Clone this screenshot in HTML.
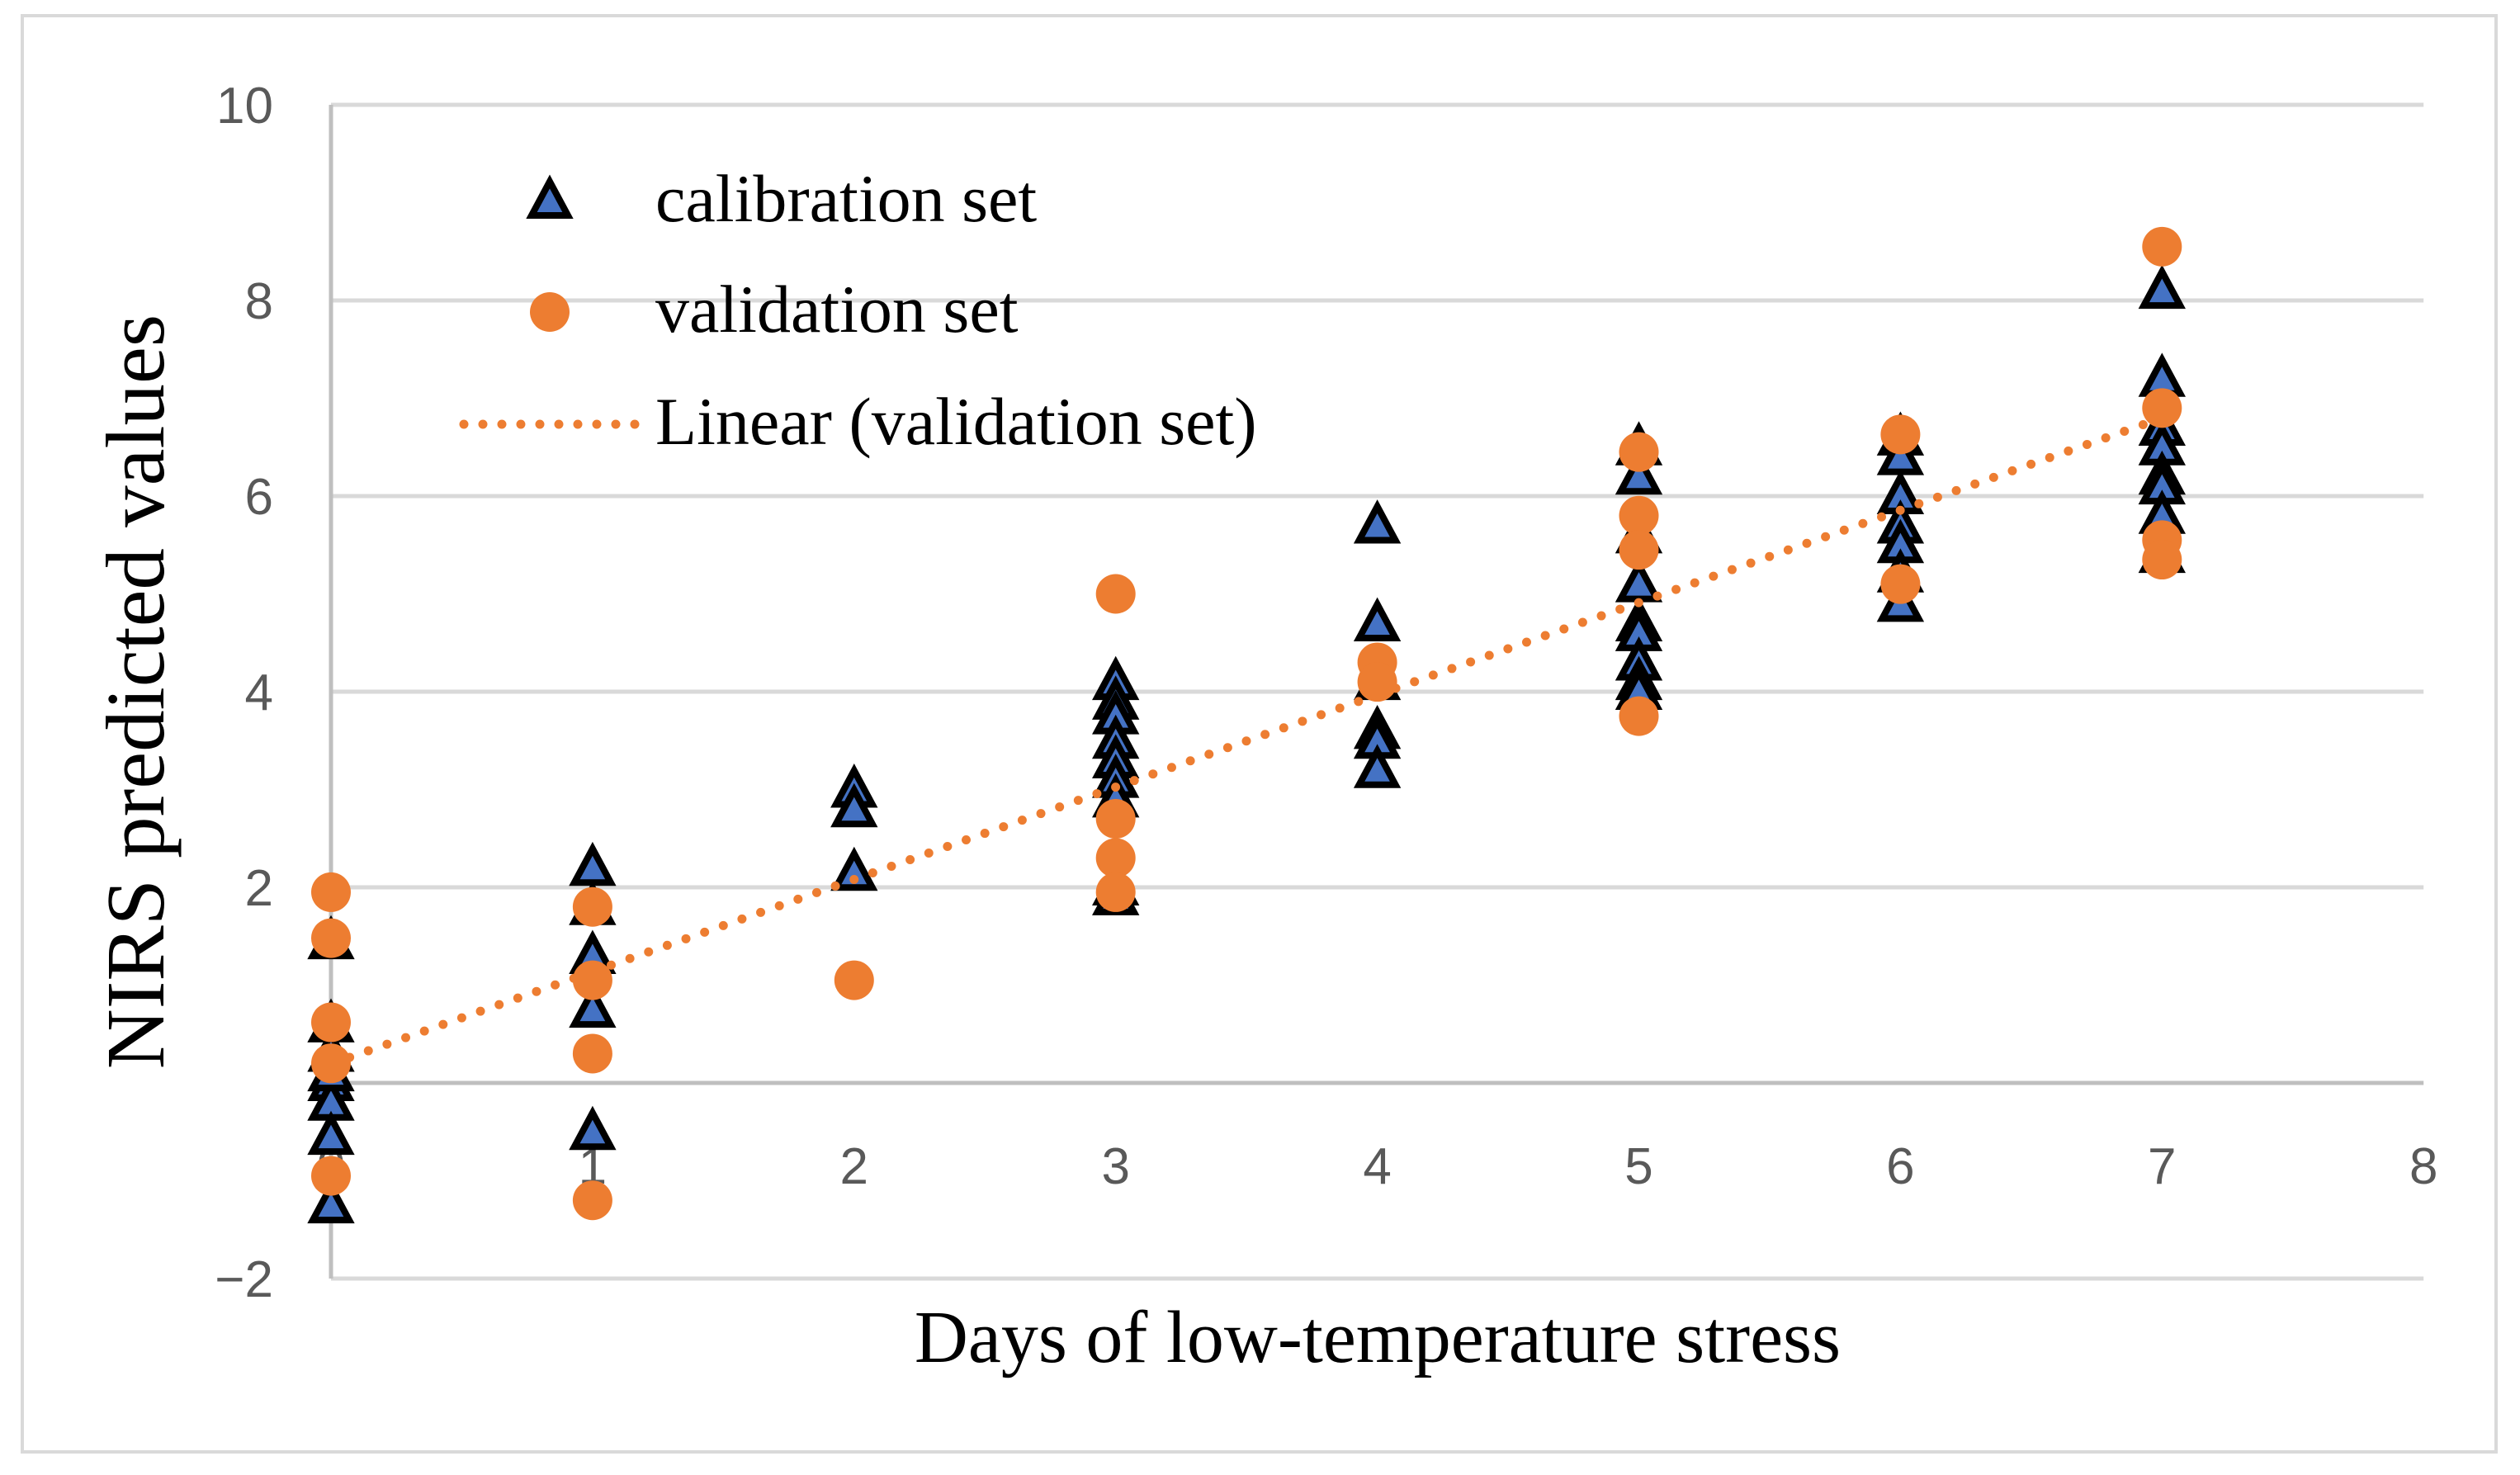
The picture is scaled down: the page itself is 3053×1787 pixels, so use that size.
<!DOCTYPE html>
<html><head><meta charset="utf-8"><style>
html,body{margin:0;padding:0;background:#fff;}
svg{display:block;}
</style></head><body>
<svg id="chart" width="3053" height="1787" viewBox="0 0 3053 1787" xmlns="http://www.w3.org/2000/svg">
<rect x="27" y="19" width="2997" height="1740" fill="#fff" stroke="#d9d9d9" stroke-width="4"/>
<g id="grid"></g>
<g id="axes"></g>
<g id="ylabels" font-family="'Liberation Sans', sans-serif" font-size="62" fill="#595959" text-anchor="end"></g>
<g id="xlabels" font-family="'Liberation Sans', sans-serif" font-size="62" fill="#595959" text-anchor="middle"></g>
<g id="cal"></g>
<g id="trend"></g>
<g id="val"></g>
<text x="175" y="838" transform="rotate(-90 175 838)" text-anchor="middle" dominant-baseline="middle" font-family="'Liberation Serif', serif" font-size="101" fill="#000">NIRS predicted values</text>
<text x="1669" y="1650" text-anchor="middle" font-family="'Liberation Serif', serif" font-size="90" fill="#000">Days of low-temperature stress</text>
<g font-family="'Liberation Serif', serif" font-size="82" fill="#000">
  <g>
    <polygon points="666,220 688,261 644,261" fill="#4472C4" stroke="#000" stroke-width="8" stroke-linejoin="miter"/>
    <text x="794" y="268">calibration set</text>
  </g>
  <g>
    <circle cx="666" cy="378" r="24" fill="#ED7D31"/>
    <text x="794" y="402">validation set</text>
  </g>
  <g>
    <line x1="562" y1="514" x2="772" y2="514" stroke="#ED7D31" stroke-width="11" stroke-linecap="round" stroke-dasharray="0 23"/>
    <text x="794" y="538">Linear (validation set)</text>
  </g>
</g>
</svg>
<script>
const yTicks = [-2, 0, 2, 4, 6, 8, 10];
const yTickLabels = ['\u22122', '', '2', '4', '6', '8', '10'];
const xTicks = [0, 1, 2, 3, 4, 5, 6, 7, 8];
const xTickLabels = ['0', '1', '2', '3', '4', '5', '6', '7', '8'];
const calDays = [0,0,0,0,0,0,0,0, 1,1,1,1,1, 2,2,2, 3,3,3,3,3,3,3,3,3, 4,4,4,4,4,4, 5,5,5,5,5,5,5,5,5, 6,6,6,6,6,6,6, 7,7,7,7,7,7,7,7];
const calValues = [1.45,0.6,0.3,0.0,-0.2,-0.55,-1.25,0.1, 2.2,1.8,1.3,0.75,-0.5, 3.0,2.8,2.15, 4.1,3.9,3.75,3.5,3.3,3.1,2.9,2.0,1.9, 5.7,4.7,4.1,3.6,3.5,3.2, 6.5,6.2,5.6,5.1,4.7,4.6,4.3,4.1,4.0, 6.6,6.4,6.0,5.7,5.5,5.2,4.9, 8.1,7.2,6.7,6.5,6.2,6.1,5.8,5.4];
const valDays = [0,0,0,0,0, 1,1,1,1, 2, 3,3,3,3, 4,4, 5,5,5,5, 6,6, 7,7,7,7];
const valValues = [1.95,1.48,0.62,0.2,-0.95, 1.8,1.05,0.3,-1.2, 1.05, 5.0,2.7,2.3,1.95, 4.3,4.1, 6.45,5.8,5.45,3.75, 6.63,5.1, 8.55,6.9,5.55,5.35];

const NS = 'http://www.w3.org/2000/svg';
const X0 = 401, XU = 316.9, Y0 = 1312, YU = 118.5;
function xs(v){ return X0 + v * XU; }
function ys(v){ return Y0 - v * YU; }
function mk(tag, attrs, parent){
  const e = document.createElementNS(NS, tag);
  for (const k in attrs) e.setAttribute(k, attrs[k]);
  parent.appendChild(e);
  return e;
}
const grid = document.getElementById('grid');
yTicks.forEach(function(t){
  if (t === 0 || t === -2) return;
  const l = mk('line', {x1: xs(0), x2: xs(8), y1: ys(t), y2: ys(t), stroke: '#d9d9d9', 'stroke-width': 5}, grid);
  
  
});
const axes = document.getElementById('axes');
const gb = mk('line', {x1: xs(0), x2: xs(8), y1: ys(-2), y2: ys(-2), stroke: '#d9d9d9', 'stroke-width': 5}, axes);


const xa = mk('line', {x1: xs(0), x2: xs(8), y1: ys(0), y2: ys(0), stroke: '#bfbfbf', 'stroke-width': 5}, axes);


const ya = mk('line', {x1: xs(0), x2: xs(0), y1: ys(10), y2: ys(-2), stroke: '#bfbfbf', 'stroke-width': 5}, axes);



const yl = document.getElementById('ylabels');
yTicks.forEach(function(t, i){
  const tx = mk('text', {x: 331, y: ys(t) + 22}, yl);
  tx.textContent = yTickLabels[i];
  
  
});
const xl = document.getElementById('xlabels');
xTicks.forEach(function(t, i){
  const tx = mk('text', {x: xs(t), y: 1434}, xl);
  tx.textContent = xTickLabels[i];
  
  
});

const cal = document.getElementById('cal');
calDays.forEach(function(d, i){
  const cx = xs(d), cy = ys(calValues[i]);
  const p = mk('polygon', {points: (cx)+','+(cy-23)+' '+(cx+22)+','+(cy+18)+' '+(cx-22)+','+(cy+18), fill: '#4472C4', stroke: '#000', 'stroke-width': 8}, cal);
  
  
});

let n = valDays.length, sx = 0, sy = 0, sxx = 0, sxy = 0;
for (let i = 0; i < n; i++){ sx += valDays[i]; sy += valValues[i]; sxx += valDays[i]*valDays[i]; sxy += valDays[i]*valValues[i]; }
const slope = (n*sxy - sx*sy) / (n*sxx - sx*sx);
const icpt = (sy - slope*sx) / n;
const tr = document.getElementById('trend');
const tl = mk('line', {x1: xs(0), y1: ys(icpt), x2: xs(7), y2: ys(icpt + slope*7), stroke: '#ED7D31', 'stroke-width': 11, 'stroke-linecap': 'round', 'stroke-dasharray': '0 24'}, tr);



const val = document.getElementById('val');
valDays.forEach(function(d, i){
  const c = mk('circle', {cx: xs(d), cy: ys(valValues[i]), r: 24, fill: '#ED7D31'}, val);
  
  
});
</script>
</body></html>
